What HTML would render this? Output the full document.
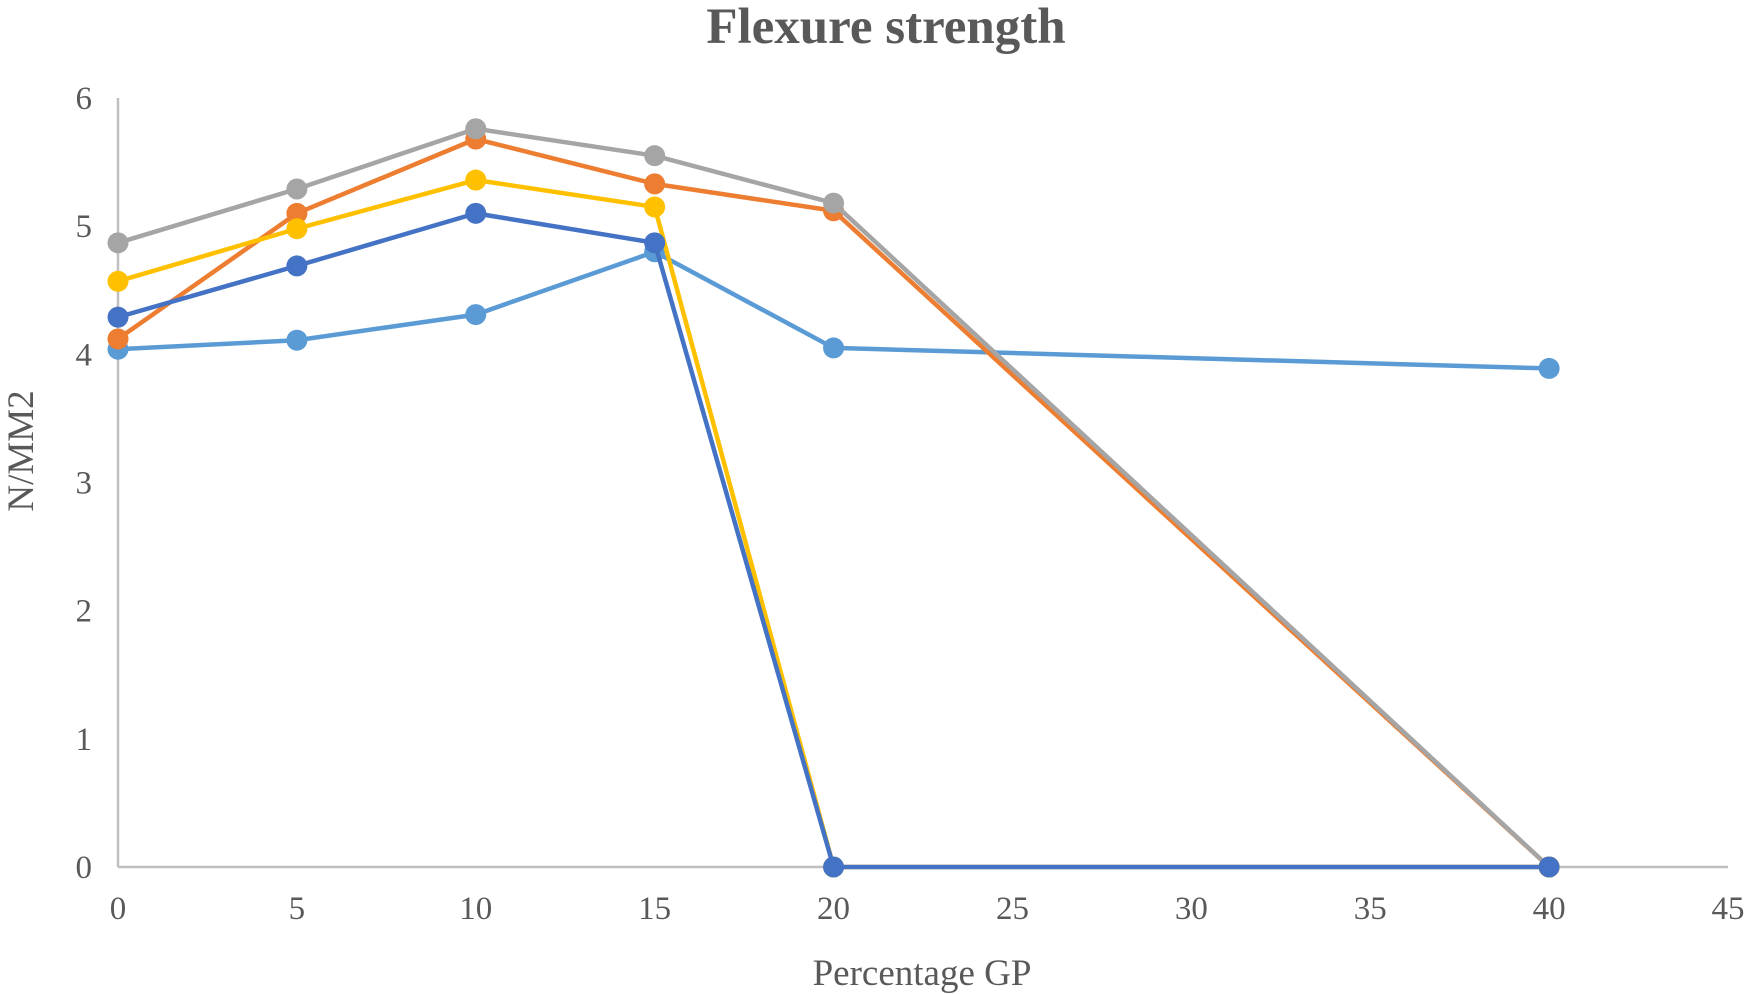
<!DOCTYPE html>
<html><head><meta charset="utf-8"><style>
html,body{margin:0;padding:0;background:#fff;}
svg{display:block;font-family:"Liberation Serif",serif;}
</style></head><body>
<svg id="chart" width="1746" height="994" viewBox="0 0 1746 994" xmlns="http://www.w3.org/2000/svg">
<text x="886" y="43" text-anchor="middle" font-size="51" font-weight="bold" fill="#595959">Flexure strength</text>
<text transform="translate(33,451) rotate(-90)" text-anchor="middle" font-size="37" fill="#595959">N/MM2</text>
<text x="922" y="985" text-anchor="middle" font-size="37" fill="#595959">Percentage GP</text>
<g id="axes"></g>
<g id="series"></g>
</svg>
<script>
const xTicks=[0,5,10,15,20,25,30,35,40,45];
const yTicks=[0,1,2,3,4,5,6];
const xValues=[0,5,10,15,20,40];
const seriesLightBlue=[4.04,4.11,4.31,4.80,4.05,3.89];
const seriesOrange=[4.12,5.10,5.68,5.33,5.12,0];
const seriesGray=[4.87,5.29,5.76,5.55,5.18,0];
const seriesYellow=[4.57,4.98,5.36,5.15,0,0];
const seriesDarkBlue=[4.29,4.69,5.10,4.87,0,0];
const seriesNames=['light-blue','orange','gray','yellow','dark-blue'];
const seriesColors=['#5B9BD5','#ED7D31','#A5A5A5','#FFC000','#4472C4'];
const allSeries=[seriesLightBlue,seriesOrange,seriesGray,seriesYellow,seriesDarkBlue];

const NS='http://www.w3.org/2000/svg';
const X0=118,X1=1728,Y0=867,Y1=98;
const xs=v=>X0+(v-0)/(45-0)*(X1-X0);
const ys=v=>Y0-(v-0)/(6-0)*(Y0-Y1);
const axes=document.getElementById('axes');
const sg=document.getElementById('series');
function mk(tag,attrs,parent){const e=document.createElementNS(NS,tag);for(const k in attrs)e.setAttribute(k,attrs[k]);parent.appendChild(e);return e;}

const yl=mk('line',{x1:X0,y1:Y1,x2:X0,y2:Y0,stroke:'#BFBFBF','stroke-width':2.5},axes);


const xl=mk('line',{x1:X0,y1:Y0,x2:X1,y2:Y0,stroke:'#BFBFBF','stroke-width':2.5},axes);


yTicks.forEach(t=>{
  const e=mk('text',{x:92,y:ys(t)+11,'text-anchor':'end','font-size':33,fill:'#595959'},axes);
  e.textContent=t;
  
  
});
xTicks.forEach(t=>{
  const e=mk('text',{x:xs(t),y:919,'text-anchor':'middle','font-size':33,fill:'#595959'},axes);
  e.textContent=t;
  
  
});
allSeries.forEach((s,i)=>{
  const g=mk('g',{},sg);
  
  
  const pts=s.map((v,j)=>xs(xValues[j])+','+ys(v)).join(' ');
  const pl=mk('polyline',{points:pts,fill:'none',stroke:seriesColors[i],'stroke-width':4.5,'stroke-linejoin':'round'},g);
  
  
  s.forEach((v,j)=>{
    const c=mk('circle',{cx:xs(xValues[j]),cy:ys(v),r:10.5,fill:seriesColors[i]},g);
    
    
  });
});
</script>
</body></html>
